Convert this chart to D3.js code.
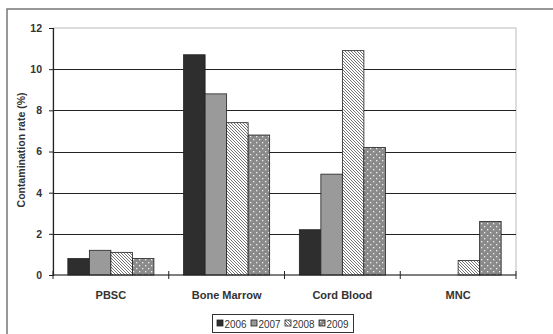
<!DOCTYPE html>
<html><head><meta charset="utf-8">
<script src="https://cdn.jsdelivr.net/npm/d3@7"></script>
<style>body{margin:0;background:#fff}svg{display:block}text{font-family:"Liberation Sans",Arial,sans-serif}</style>
</head><body><svg id="c" width="553" height="334"></svg>
<script>
const categories = ["PBSC", "Bone Marrow", "Cord Blood", "MNC"];
const years = ["2006", "2007", "2008", "2009"];
const v2006 = [0.8, 10.7, 2.2, 0];
const v2007 = [1.2, 8.8, 4.9, 0];
const v2008 = [1.1, 7.4, 10.9, 0.7];
const v2009 = [0.8, 6.8, 6.2, 2.6];
const yTicks = [0, 2, 4, 6, 8, 10, 12];
const yTitle = "Contamination rate (%)";

const series = [v2006, v2007, v2008, v2009];
const svg = d3.select("#c");
const defs = svg.append("defs");
// hatch for 2008
const ph = defs.append("pattern").attr("id","hatch").attr("patternUnits","userSpaceOnUse")
  .attr("width",3).attr("height",3);
ph.append("rect").attr("width",3).attr("height",3).attr("fill","#fff");
ph.append("path").attr("d","M-1,-1 L4,4 M-1,2 L1,4 M2,-1 L4,1").attr("stroke","#666").attr("stroke-width",0.9);
// dots for 2009
const pd = defs.append("pattern").attr("id","dots").attr("patternUnits","userSpaceOnUse")
  .attr("width",6).attr("height",6);
pd.append("rect").attr("width",6).attr("height",6).attr("fill","#8a8a8a");
pd.append("rect").attr("x",1).attr("y",1).attr("width",1.3).attr("height",1.3).attr("fill","#eee");
pd.append("rect").attr("x",4).attr("y",4).attr("width",1.3).attr("height",1.3).attr("fill","#eee");
const fills = ["#2e2e2e", "#9a9a9a", "url(#hatch)", "url(#dots)"];

// outer frame
svg.append("path").attr("d","M7,340 L7,9 L560,9").attr("fill","none").attr("stroke","#777").attr("stroke-width",1.5);

const L = 53, R = 516, T = 28, B = 275;
const x0 = d3.scaleBand().domain(categories).range([L, R]).paddingInner(0).paddingOuter(0);
const x1 = d3.scaleBand().domain(years).range([0, x0.bandwidth()]).paddingOuter(0.69).paddingInner(0);
const y = d3.scaleLinear().domain([0, 12]).range([B, T]);

// plot border
svg.append("rect").attr("x",L).attr("y",T).attr("width",R-L).attr("height",B-T)
  .attr("fill","none").attr("stroke","#bbb").attr("stroke-width",1);
// gridlines
svg.append("g").selectAll("line").data(yTicks.filter(t=>t>0 && t<12)).join("line")
  .attr("x1",L).attr("x2",R).attr("y1",d=>Math.round(y(d))+0.5).attr("y2",d=>Math.round(y(d))+0.5)
  .attr("stroke","#222").attr("stroke-width",1);

// bars
categories.forEach((c, ci) => {
  series.forEach((s, si) => {
    if (s[ci] <= 0) return;
    svg.append("rect")
      .attr("x", x0(c) + x1(years[si]))
      .attr("y", y(s[ci]))
      .attr("width", x1.bandwidth())
      .attr("height", B - y(s[ci]))
      .attr("fill", fills[si]).attr("stroke","#222").attr("stroke-width",0.8);
  });
});

// y axis
const ya = svg.append("g").attr("transform",`translate(${L},0)`)
  .call(d3.axisLeft(y).tickValues(yTicks).tickSize(4).tickPadding(7).tickFormat(d3.format("d")));
ya.select(".domain").attr("stroke","#222").attr("stroke-width",1.2);
ya.selectAll(".tick line").attr("stroke","#222");
ya.selectAll("text").attr("font-size",10.5).attr("font-weight","bold").attr("fill","#333")
  .style("font-family","'Liberation Sans',Arial,sans-serif");

// x axis
const xa = svg.append("g").attr("transform",`translate(0,${B})`);
xa.append("line").attr("x1",L).attr("x2",R).attr("stroke","#222").attr("stroke-width",1.2);
const boundaries = categories.map(c=>x0(c)).concat([R]);
xa.selectAll("line.t").data(boundaries).join("line").attr("class","t")
  .attr("x1",d=>d).attr("x2",d=>d).attr("y1",-4).attr("y2",4).attr("stroke","#222");
xa.selectAll("text").data(categories).join("text")
  .attr("x",d=>x0(d)+x0.bandwidth()/2).attr("y",24)
  .attr("text-anchor","middle").attr("font-size",11).attr("font-weight","bold").attr("fill","#333")
  .text(d=>d);

// y title
svg.append("text").attr("transform",`translate(25,150) rotate(-90)`)
  .attr("text-anchor","middle").attr("font-size",10.5).attr("font-weight","bold").attr("fill","#333")
  .text(yTitle);

// legend
const lg = svg.append("g").attr("transform","translate(212,314)");
lg.append("rect").attr("x",0.5).attr("y",0.5).attr("width",141).attr("height",18)
  .attr("fill","#fff").attr("stroke","#333");
const lw = 34;
years.forEach((yr,i)=>{
  const g = lg.append("g").attr("transform",`translate(${5+i*lw},0)`);
  g.append("rect").attr("x",0).attr("y",6).attr("width",6).attr("height",6)
    .attr("fill",fills[i]).attr("stroke","#222").attr("stroke-width",0.8);
  g.append("text").attr("x",7.5).attr("y",13.5).attr("font-size",11).attr("fill","#333")
    .attr("textLength",22).attr("lengthAdjust","spacingAndGlyphs").text(yr);
});
</script></body></html>
